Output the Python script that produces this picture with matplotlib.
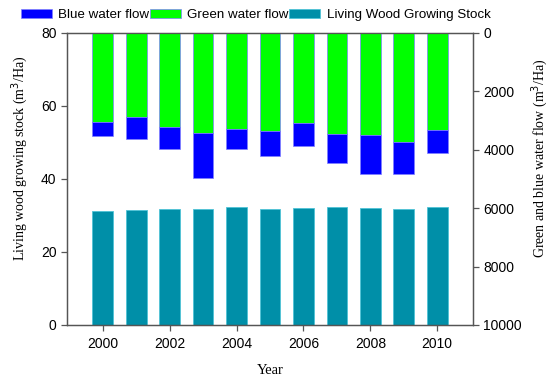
import numpy as np
import matplotlib.pyplot as plt

years = [2000, 2001, 2002, 2003, 2004, 2005, 2006, 2007, 2008, 2009, 2010]
# living wood growing stock (m3/Ha), left axis
stock = [31.3, 31.4, 31.7, 31.7, 32.3, 31.8, 32.0, 32.4, 32.0, 31.9, 32.2]
# water flows (m3/Ha), right axis (inverted)
green_flow = [3040, 2890, 3210, 3440, 3290, 3345, 3070, 3450, 3480, 3720, 3330]
blue_flow = [490, 740, 775, 1515, 685, 880, 810, 990, 1360, 1120, 780]

tick_font = 'Liberation Sans'
label_font = 'Liberation Serif'
spine_col = '#555555'

fig = plt.figure(figsize=(5.5, 3.79), dpi=100)
ax = fig.add_axes([0.1218, 0.1425, 0.7382, 0.7705])
ax2 = ax.twinx()

w = 0.62
b_stock = ax.bar(years, stock, width=w, color='#008FA8', edgecolor='#4FC3D6', linewidth=0.6,
                 label='Living Wood Growing Stock')
b_green = ax2.bar(years, green_flow, width=w, color='#00FF00', edgecolor='#8080FF', linewidth=0.5,
                  label='Green water flow')
b_blue = ax2.bar(years, blue_flow, width=w, bottom=green_flow, color='#0000FF', edgecolor='#8080FF',
                 linewidth=0.5, label='Blue water flow')

ax.set_xlim(1998.93, 2011.07)
ax.set_ylim(0, 80)
ax2.set_ylim(10000, 0)
ax.set_xticks(range(2000, 2011, 2))
ax.set_yticks(range(0, 81, 20))
ax2.set_yticks(range(0, 10001, 2000))

for a in (ax, ax2):
    for s in a.spines.values():
        s.set_color(spine_col)
        s.set_linewidth(0.9)
    a.tick_params(direction='out', length=4, width=0.9, color=spine_col, labelsize=10)
    for lab in a.get_xticklabels() + a.get_yticklabels():
        lab.set_fontfamily(tick_font)
ax.tick_params(axis='x', pad=5)

ax.set_xlabel('Year', fontfamily=label_font, fontsize=10.5, labelpad=9)
ax.set_ylabel('Living wood growing stock (m$^3$/Ha)', fontfamily=label_font, fontsize=10)
ax2.set_ylabel('Green and blue water flow (m$^3$/Ha)', fontfamily=label_font, fontsize=10)
ax.yaxis.set_label_coords(-0.09, 0.57)
ax2.yaxis.set_label_coords(1.138, 0.57)

fig.legend(handles=[b_blue, b_green, b_stock], loc='center', bbox_to_anchor=(0.465, 0.96),
           ncol=3, frameon=False, prop={'family': tick_font, 'size': 9.6},
           handlelength=2.3, handleheight=0.6, handletextpad=0.5, columnspacing=0.05)

plt.savefig('out.png', dpi=100)
